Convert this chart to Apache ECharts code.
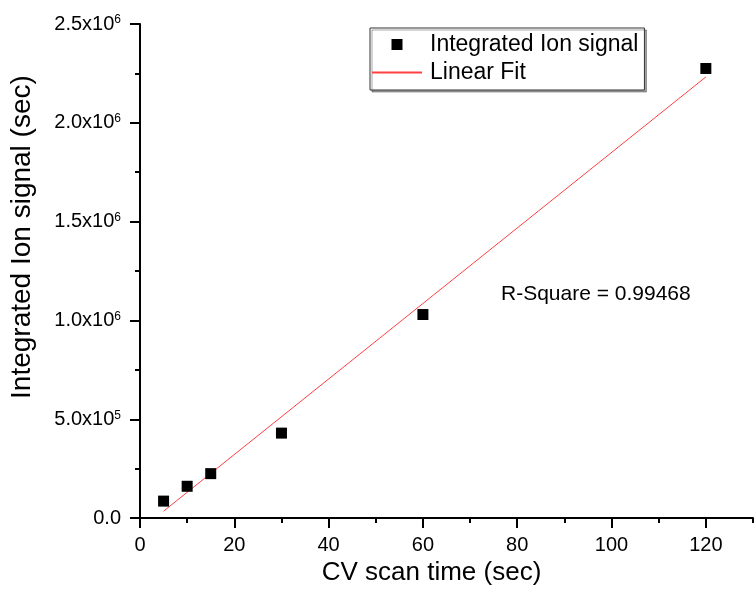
<!DOCTYPE html>
<html>
<head>
<meta charset="utf-8">
<script src="https://cdn.jsdelivr.net/npm/echarts@6/dist/echarts.min.js"></script>
<style>
  html, body { margin: 0; padding: 0; background: #fff; }
  #chart { width: 754px; height: 591px; }
</style>
</head>
<body>
<div id="chart"></div>
<script>
// measured points
var scanTime = [5, 10, 15, 30, 60, 120];
var ionSignal = [86000, 161000, 225000, 430000, 1030000, 2275000];
// fit line end points
var fitX = [5, 120];
var fitY = [35000, 2232000];
var rSquare = '0.99468';

var FONT = 'Arial, "Liberation Sans", sans-serif';

var points = [];
for (var i = 0; i < scanTime.length; i++) {
    points.push([scanTime[i], ionSignal[i]]);
}
var fitLine = [];
for (var i = 0; i < fitX.length; i++) {
    fitLine.push([fitX[i], fitY[i]]);
}

// 2.5x10^6 style labels
function sciLabel(v) {
    if (v === 0) return '{b|0.0}';
    var e = Math.floor(Math.log10(v) + 1e-9);
    var m = v / Math.pow(10, e);
    return '{b|' + m.toFixed(1) + 'x10}{s|' + e + '}';
}

var chart = echarts.init(document.getElementById('chart'));

var option = {
    backgroundColor: '#fff',
    animation: false,
    grid: { left: 138, right: 1, top: 24, bottom: 72 },
    legend: {
        orient: 'vertical',
        left: 370,
        top: 28,
        padding: [5, 6, 6, 1],
        itemGap: 5,
        itemWidth: 50,
        itemHeight: 11,
        symbolKeepAspect: true,
        borderColor: '#333',
        borderWidth: 1,
        backgroundColor: '#fff',
        shadowColor: 'rgba(0,0,0,0.35)',
        shadowOffsetX: 2,
        shadowOffsetY: 2,
        textStyle: { fontFamily: FONT, fontSize: 23, color: '#000', padding: [0, 0, 0, 3] },
        data: [
            { name: 'Integrated Ion signal', icon: 'path://M0,0H10V10H0Z', itemStyle: { color: '#000', opacity: 1 } },
            { name: 'Linear Fit', itemStyle: { color: 'rgba(0,0,0,0)', opacity: 0 } }
        ]
    },
    xAxis: [{
        type: 'value',
        min: 0,
        max: 130,
        interval: 20,
        name: 'CV scan time (sec)',
        nameLocation: 'middle',
        nameGap: 31,
        nameTextStyle: { fontFamily: FONT, fontSize: 26, color: '#000', padding: [0, 30, 0, 0] },
        axisLine: { show: true, lineStyle: { color: '#000', width: 2 } },
        axisTick: { show: true, length: 10, lineStyle: { color: '#000', width: 2 } },
        axisLabel: { fontFamily: FONT, fontSize: 20, color: '#000', margin: 17, showMaxLabel: false },
        splitLine: { show: false }
    }, {
        type: 'value',
        position: 'bottom',
        min: 0,
        max: 130,
        interval: 10,
        axisLine: { show: false },
        axisTick: { show: true, length: 5, lineStyle: { color: '#000', width: 2 } },
        axisLabel: { show: false },
        splitLine: { show: false }
    }],
    yAxis: [{
        type: 'value',
        min: 0,
        max: 2500000,
        interval: 500000,
        name: 'Integrated Ion signal (sec)',
        nameLocation: 'middle',
        nameGap: 104,
        nameTextStyle: { fontFamily: FONT, fontSize: 28, color: '#000', padding: [0, 0, 0, 68] },
        axisLine: { show: true, lineStyle: { color: '#000', width: 2 } },
        axisTick: { show: true, length: 10, lineStyle: { color: '#000', width: 2 } },
        axisLabel: {
            margin: 19,
            formatter: sciLabel,
            rich: {
                b: { fontFamily: FONT, fontSize: 20, color: '#000' },
                s: { fontFamily: FONT, fontSize: 12, color: '#000', verticalAlign: 'top' }
            }
        },
        splitLine: { show: false }
    }, {
        type: 'value',
        position: 'left',
        min: 0,
        max: 2500000,
        interval: 250000,
        axisLine: { show: false },
        axisTick: { show: true, length: 5, lineStyle: { color: '#000', width: 2 } },
        axisLabel: { show: false },
        splitLine: { show: false }
    }],
    graphic: [{
        type: 'text',
        left: 501,
        top: 284,
        style: { text: 'R-Square = ' + rSquare, font: '21px ' + FONT, fill: '#000' }
    }],
    series: [{
        name: 'Linear Fit',
        type: 'line',
        xAxisIndex: 0,
        yAxisIndex: 0,
        data: fitLine,
        symbol: 'none',
        z: 2,
        lineStyle: { color: '#ff4040', width: 1 },
        itemStyle: { color: '#ff4040' }
    }, {
        name: 'Integrated Ion signal',
        type: 'scatter',
        xAxisIndex: 0,
        yAxisIndex: 0,
        data: points,
        symbol: 'rect',
        symbolSize: 11,
        z: 3,
        itemStyle: { color: '#000', opacity: 1 }
    }]
};
chart.setOption(option);
</script>
</body>
</html>
